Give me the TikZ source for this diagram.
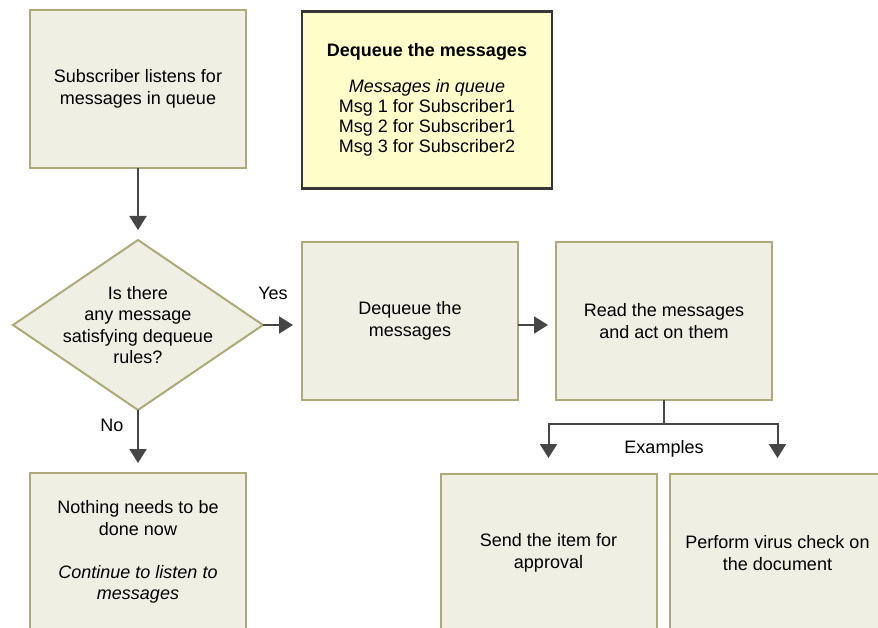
\documentclass[tikz,border=0pt]{standalone}
\usepackage{fontspec}
\setmainfont{Liberation Sans}
\usetikzlibrary{shapes.geometric,arrows.meta,positioning,shadows}
\definecolor{boxfill}{RGB}{240,239,228}
\definecolor{boxline}{RGB}{172,170,120}
\definecolor{notefill}{RGB}{255,255,204}
\definecolor{noteline}{RGB}{55,55,55}
\definecolor{arrowgray}{RGB}{70,70,70}

\begin{document}
\begin{tikzpicture}[x=1pt,y=-1pt,
  font=\fontsize{18}{21.5}\selectfont,
  procbox/.style={draw=boxline,fill=boxfill,line width=2pt,outer sep=0pt,
                  minimum width=216pt,minimum height=158pt,align=center,inner sep=0pt,
                  drop shadow={shadow xshift=1pt,shadow yshift=-1pt,opacity=0.25}},
  notebox/.style={draw=noteline,fill=notefill,line width=2.2pt,outer sep=0pt,
                  minimum width=250pt,minimum height=177pt,align=center,
                  font=\fontsize{18}{20}\selectfont,
                  drop shadow={shadow xshift=1pt,shadow yshift=-1pt,opacity=0.25}},
  decision/.style={diamond,aspect=1.47,draw=boxline,fill=boxfill,line width=2pt,outer sep=0pt,
                   minimum width=250pt,minimum height=170pt,inner sep=-8pt,align=center},
  flow/.style={-{Triangle[width=17pt,length=14pt]},line width=2pt,draw=arrowgray},
  lbl/.style={inner sep=1pt}]
  \useasboundingbox (0,0) rectangle (878,627);
  \clip (0,0) rectangle (878,627);

  \node[decision] (q) at (138,325) {Is there\\any message\\satisfying dequeue\\rules?};
  \node[procbox,above=72pt of q] (sub) {Subscriber listens for\\messages in queue};
  \node[notebox] (queue) at (427,100)
    {\textbf{Dequeue the messages}\\[16pt]
     \textit{Messages in queue}\\
     Msg 1 for Subscriber1\\
     Msg 2 for Subscriber1\\
     Msg 3 for Subscriber2};
  \node[procbox,below=63pt of q] (none)
    {Nothing needs to be\\done now\\[21.5pt]\textit{Continue to listen to}\\\textit{messages}};
  \node[procbox,right=39pt of q,yshift=4pt] (deq) {Dequeue the\\messages};
  \node[procbox,right=38pt of deq] (read) {Read the messages\\and act on them};
  \node[procbox,below=74pt of read,xshift=-115.5pt] (send) {Send the item for\\approval};
  \node[procbox,right=13pt of send] (virus) {Perform virus check on\\the document};

  \node[lbl] (yes) at ([xshift=10pt,yshift=32pt]q.east) {Yes};
  \node[lbl] (no)  at ([xshift=-26pt,yshift=-15pt]q.south) {No};

  \draw[flow,shorten >=10pt] (sub) -- (q);
  \draw[flow,shorten >=9pt]  (q.east) -- (deq.west|-q.east);
  \draw[flow,shorten >=8pt]  (deq.east|-q.east) -- (read.west|-q.east);
  \draw[flow,shorten >=10pt] (q) -- (none);
  \draw[line width=2pt,draw=arrowgray] (read.south) -- ++(0,24) coordinate (fork);
  \draw[flow,shorten >=16pt] (fork) -| (send);
  \draw[flow,shorten >=16pt] (fork) -| (virus);
  \node[lbl] (ex) at ([yshift=-25pt]fork) {Examples};
\end{tikzpicture}
\end{document}
